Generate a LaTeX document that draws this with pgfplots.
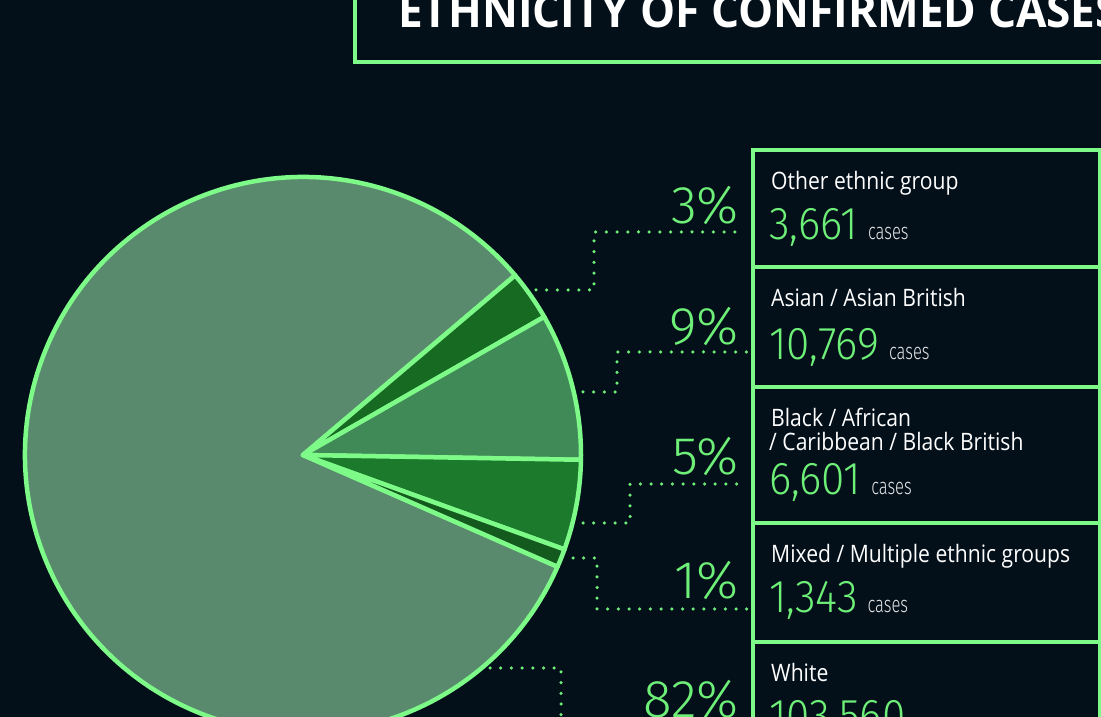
\documentclass[border=0pt]{standalone}
\usepackage{pgfplots}
\pgfplotsset{compat=1.18}
\usepackage{pgfplotstable}
\usepackage{fontspec}
\setmainfont{Open Sans}
\newfontfamily\titlefont[FakeStretch=0.95]{Open Sans}
\newfontfamily\labfont[FakeStretch=0.88]{Open Sans}
\newfontfamily\numfont[FakeStretch=0.92]{Fira Sans Light}
\newfontfamily\casefont[FakeStretch=0.72]{Fira Sans Light}
\newfontfamily\pctfont{Fira Sans Light}
\definecolor{bg}{HTML}{03101A}
\definecolor{cLine}{HTML}{7DFA87}
\definecolor{cTxt}{HTML}{6EF078}
\definecolor{cOther}{HTML}{176A22}
\definecolor{cAsian}{HTML}{408A58}
\definecolor{cBlack}{HTML}{1C7A2C}
\definecolor{cMixed}{HTML}{145A1E}
\definecolor{cWhite}{HTML}{5A8A6E}

\pgfplotstableread{
group cases
Other 3661
Asian 10769
Black 6601
Mixed 1343
White 103560
}\ethtable
\newcommand{\num}[1]{\textcolor{cTxt}{\numfont\fontsize{46}{50}\selectfont #1}\hspace{10pt}{\casefont\fontsize{23}{26}\selectfont cases}}

\begin{document}
\begin{tikzpicture}
\pgfplotstablegetelem{0}{cases}\of\ethtable \edef\vA{\pgfplotsretval}
\pgfplotstablegetelem{1}{cases}\of\ethtable \edef\vB{\pgfplotsretval}
\pgfplotstablegetelem{2}{cases}\of\ethtable \edef\vC{\pgfplotsretval}
\pgfplotstablegetelem{3}{cases}\of\ethtable \edef\vD{\pgfplotsretval}
\pgfplotstablegetelem{4}{cases}\of\ethtable \edef\vE{\pgfplotsretval}
\edef\tot{\fpeval{\vA+\vB+\vC+\vD+\vE}}
\edef\aA{40.26}
\edef\aB{\fpeval{\aA-360*\vA/\tot}}
\edef\aC{\fpeval{\aB-360*\vB/\tot}}
\edef\aD{\fpeval{\aC-360*\vC/\tot}}
\edef\aE{\fpeval{\aD-360*\vD/\tot}}
\edef\aF{\fpeval{\aA-360}}
\begin{axis}[x=1pt,y=1pt,xmin=0,xmax=1101,ymin=0,ymax=717,hide axis,clip=true,scale only axis]
\fill[bg] (axis cs:-20,-20) rectangle (axis cs:1121,737);
% pie
\begin{scope}[line width=4.5pt, draw=cLine, line join=round]
\filldraw[fill=cWhite] (axis cs:303,262) -- ++(\aE:278pt) arc[start angle=\aE, end angle=\aF, radius=278pt] -- cycle;
\filldraw[fill=cOther] (axis cs:303,262) -- ++(\aA:278pt) arc[start angle=\aA, end angle=\aB, radius=278pt] -- cycle;
\filldraw[fill=cAsian] (axis cs:303,262) -- ++(\aB:278pt) arc[start angle=\aB, end angle=\aC, radius=278pt] -- cycle;
\filldraw[fill=cBlack] (axis cs:303,262) -- ++(\aC:278pt) arc[start angle=\aC, end angle=\aD, radius=278pt] -- cycle;
\filldraw[fill=cMixed] (axis cs:303,262) -- ++(\aD:278pt) arc[start angle=\aD, end angle=\aE, radius=278pt] -- cycle;
\end{scope}
% dotted connectors
\begin{scope}[cTxt, line width=3.5pt, line cap=round, dash pattern=on 0pt off 10.7pt]
\draw (axis cs:536,427) -- (axis cs:594,427) -- (axis cs:594,485) -- (axis cs:745,485);
\draw (axis cs:583,325) -- (axis cs:617,325) -- (axis cs:617,365) -- (axis cs:750,365);
\draw (axis cs:583,194) -- (axis cs:630,194) -- (axis cs:630,233) -- (axis cs:745,233);
\draw (axis cs:573,159) -- (axis cs:597,159) -- (axis cs:597,108) -- (axis cs:750,108);
\draw (axis cs:490,49) -- (axis cs:561,49) -- (axis cs:561,-23);
\end{scope}
% boxes
\begin{scope}[cLine, line width=3.5pt]
\draw (axis cs:1100,-20) -- (axis cs:1100,567) -- (axis cs:753,567) -- (axis cs:753,-20);
\draw (axis cs:753,450) -- (axis cs:1100,450);
\draw (axis cs:753,330) -- (axis cs:1100,330);
\draw (axis cs:753,194) -- (axis cs:1100,194);
\draw (axis cs:753,75) -- (axis cs:1100,75);
\draw (axis cs:1200,655) -- (axis cs:355,655) -- (axis cs:355,760);
\end{scope}
% title
\node[anchor=base west, inner sep=0pt, text=white, font=\titlefont\bfseries\fontsize{46.5}{50}\selectfont] at (axis cs:398,689) {ETHNICITY OF CONFIRMED CASES};
% percentages
\begin{scope}[every node/.style={anchor=base east, inner sep=0pt, text=cTxt, font=\pctfont\fontsize{53}{56}\selectfont}]
\node at (axis cs:739,493) {3\%};
\node at (axis cs:739,372) {9\%};
\node at (axis cs:739,242) {5\%};
\node at (axis cs:739,118) {1\%};
\node at (axis cs:739,-1) {82\%};
\end{scope}
% labels
\begin{scope}[every node/.style={anchor=base west, inner sep=0pt, text=white, font=\labfont\fontsize{24}{28}\selectfont}]
\node at (axis cs:771,527) {Other ethnic group};
\node at (axis cs:771,410) {Asian / Asian British};
\node at (axis cs:771,290) {Black / African};
\node at (axis cs:769,266) {/ Caribbean / Black British};
\node at (axis cs:771,154) {Mixed / Multiple ethnic groups};
\node at (axis cs:771,35) {White};
\end{scope}
% numbers
\begin{scope}[every node/.style={anchor=base west, inner sep=0pt, text=white!90!black}]
\node at (axis cs:769,477) {\num{3,661}};
\node at (axis cs:769,357) {\num{10,769}};
\node at (axis cs:769,222) {\num{6,601}};
\node at (axis cs:769,104) {\num{1,343}};
\node at (axis cs:769,-15) {\num{103,560}};
\end{scope}
\end{axis}
\pgfresetboundingbox
\path[use as bounding box] (0,0) rectangle (1101pt,717pt);
\end{tikzpicture}
\end{document}
